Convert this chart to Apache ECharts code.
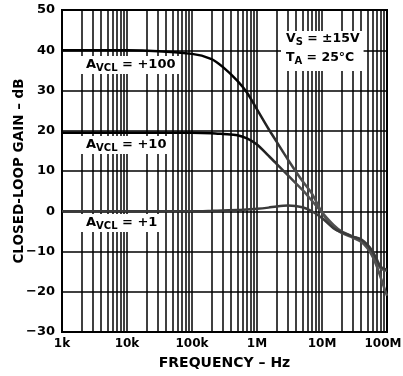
<!DOCTYPE html>
<html>
<head>
<meta charset="utf-8">
<script src="https://cdn.jsdelivr.net/npm/echarts@6/dist/echarts.min.js"></script>
<style>
  html, body { margin: 0; padding: 0; background: #fff; }
  #main { width: 403px; height: 376px; }
</style>
</head>
<body>
<div id="main"></div>
<script>
// frequency points (Hz) shared by the three curves
var freqs = [1e3, 1e4, 1e5, 2e5, 3e5, 5e5, 7e5, 1e6, 1.5e6, 2e6, 3e6, 5e6, 7e6,
  1e7, 1.5e7, 2e7, 3e7, 4e7, 5e7, 6e7, 7e7, 8e7, 1e8];
// closed loop gain in dB
var gain100 = [40, 40, 39.1, 37.8, 35.8, 32.4, 29.5, 25.3, 20.5, 17.3, 12.8, 7.5, 4.4,
  -0.3, -4.0, -5.4, -6.6, -7.6, -9.2, -11.3, -13.8, -16.5, -21];
var gain10 = [19.5, 19.5, 19.5, 19.4, 19.2, 18.9, 18.1, 16.6, 13.8, 11.8, 8.9, 5.3, 2.6,
  -0.3, -3.4, -5.0, -6.3, -7.2, -8.6, -10.4, -12.6, -14.2, -14.8];
var gain1 = [0, 0, 0, 0.1, 0.2, 0.3, 0.45, 0.6, 0.9, 1.2, 1.4, 1.0, 0.0,
  -1.7, -4.2, -5.2, -6.3, -7.0, -8.3, -10, -12, -13.8, -14.5];

var xTickLabels = ['1k', '10k', '100k', '1M', '10M', '100M'];
var decades = [1e3, 1e4, 1e5, 1e6, 1e7];
var minorSteps = [2, 3, 4, 5, 6, 7, 8, 9];

var FONT = '"DejaVu Sans", Verdana, sans-serif';

function pairs(ys) {
  var out = [];
  for (var i = 0; i < freqs.length; i++) out.push([freqs[i], ys[i]]);
  return out;
}

// vertical minor grid (2..9 in each decade)
var minorLines = [];
decades.forEach(function (d) {
  minorSteps.forEach(function (m) { minorLines.push({ xAxis: d * m }); });
});

var chart = echarts.init(document.getElementById('main'));

function curveColor() {
  return new echarts.graphic.LinearGradient(240, 0, 300, 0, [
    { offset: 0, color: '#000' },
    { offset: 1, color: '#505050' }
  ], true);
}

function curve(name, ys, color) {
  return {
    name: name,
    type: 'line',
    data: pairs(ys),
    smooth: 0.3,
    symbol: 'none',
    z: 5,
    lineStyle: { color: color, width: 2.5 }
  };
}

function richLbl(size, sub, lh) {
  return {
    a: { fontFamily: FONT, fontWeight: 'bold', fontSize: size, lineHeight: lh, verticalAlign: 'top', color: '#000' },
    s: { fontFamily: FONT, fontWeight: 'bold', fontSize: sub, lineHeight: lh, verticalAlign: 'top',
      padding: [5, 0, 0, 0], color: '#000' }
  };
}

function gainLabel(x, y, txt) {
  return {
    type: 'text',
    x: x, y: y, z: 10,
    style: {
      text: '{a|A}{s|VCL}{a| = ' + txt + '}',
      rich: richLbl(13, 10, 15),
      backgroundColor: '#fff',
      padding: [2, 4, 1, 6]
    }
  };
}

var option = {
  animation: false,
  backgroundColor: '#fff',
  grid: {
    left: 62, right: 16, top: 10, bottom: 44,
    outerBoundsMode: 'none',
    show: true, borderColor: '#000', borderWidth: 2
  },
  xAxis: {
    type: 'log',
    logBase: 10,
    min: 1e3,
    max: 1e8,
    name: 'FREQUENCY – Hz',
    nameLocation: 'middle',
    nameGap: 24,
    nameMoveOverlap: false,
    nameTextStyle: { fontFamily: FONT, fontWeight: 'bold', fontSize: 14, color: '#000' },
    axisLine: { show: false },
    axisTick: { show: false },
    axisLabel: {
      margin: 6,
      fontFamily: FONT, fontWeight: 'bold', fontSize: 12, color: '#000',
      formatter: function (v) {
        var i = Math.round(Math.log10(v)) - 3;
        // last label sits a little left of its tick so it stays on the page
        return i === xTickLabels.length - 1 ? '{r|' + xTickLabels[i] + '}' : xTickLabels[i];
      },
      rich: {
        r: { fontFamily: FONT, fontWeight: 'bold', fontSize: 12, color: '#000', padding: [0, 8, 0, 0] }
      }
    },
    splitLine: { show: true, lineStyle: { color: '#000', width: 1.5 } }
  },
  yAxis: {
    type: 'value',
    min: -30,
    max: 50,
    interval: 10,
    name: 'CLOSED-LOOP GAIN – dB',
    nameLocation: 'middle',
    nameRotate: 90,
    nameGap: 36,
    nameMoveOverlap: false,
    nameTextStyle: { fontFamily: FONT, fontWeight: 'bold', fontSize: 13.5, color: '#000' },
    axisLine: { show: false },
    axisTick: { show: false },
    axisLabel: {
      margin: 7,
      fontFamily: FONT, fontWeight: 'bold', fontSize: 13, color: '#000',
      formatter: function (v) { return v < 0 ? '−' + Math.abs(v) : String(v); }
    },
    splitLine: { show: true, lineStyle: { color: '#000', width: 1.5 } }
  },
  series: [
    {
      type: 'line',
      data: [],
      z: 1,
      silent: true,
      markLine: {
        silent: true,
        symbol: 'none',
        label: { show: false },
        lineStyle: { color: '#000', width: 1.5, type: 'solid' },
        data: minorLines
      }
    },
    curve('+100', gain100, curveColor()),
    curve('+10', gain10, curveColor()),
    curve('+1', gain1, '#3a3a3a')
  ],
  graphic: [
    gainLabel(80, 56, '+100'),
    gainLabel(80, 136, '+10'),
    gainLabel(80, 214, '+1'),
    {
      type: 'text',
      x: 281, y: 31, z: 10,
      style: {
        text: '{a|V}{s|S}{a| = ±15V}\n{a|T}{s|A}{a| = 25°C}',
        rich: richLbl(12.5, 10, 19),
        backgroundColor: '#fff',
        padding: [1, 4, 1, 5]
      }
    }
  ]
};

chart.setOption(option);
</script>
</body>
</html>
